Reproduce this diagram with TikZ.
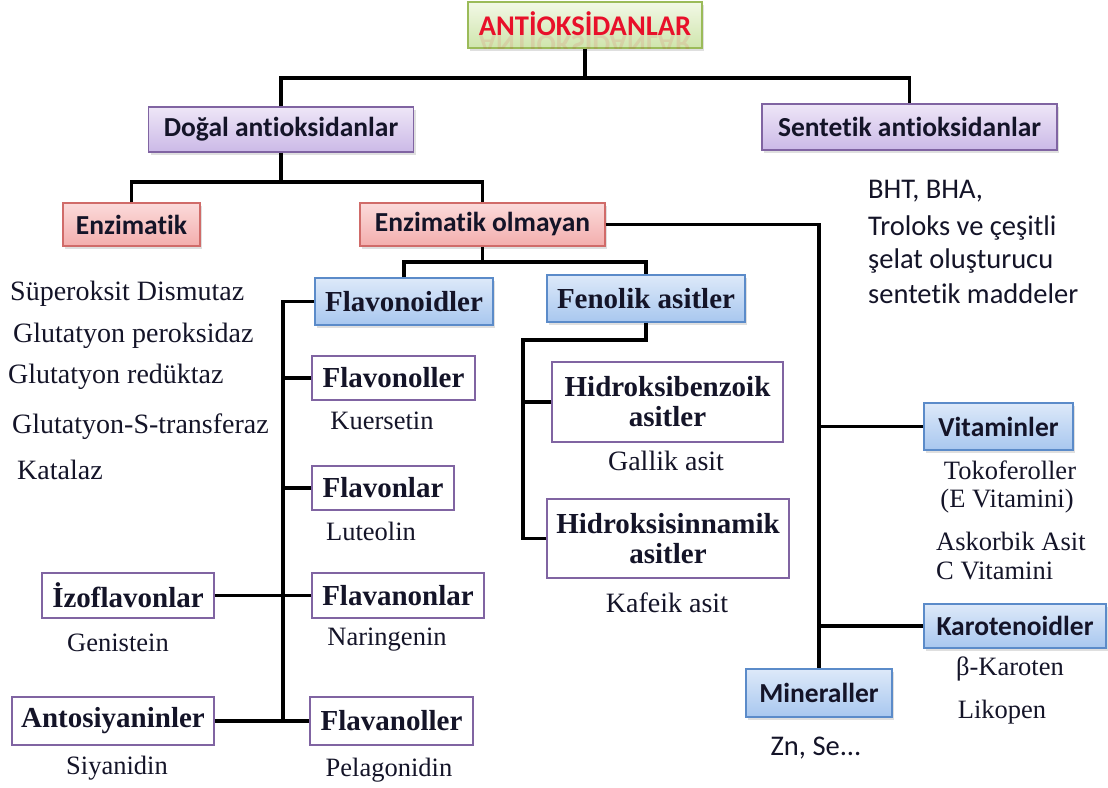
\documentclass[tikz,border=0pt]{standalone}
\usepackage{fontspec}
\setmainfont{Liberation Serif}
\newfontfamily\calfont[Ligatures=NoCommon]{Carlito}
\usetikzlibrary{shadows}

\definecolor{linkcol}{HTML}{000000}
\definecolor{greenedge}{HTML}{9BBB59}
\definecolor{greentop}{HTML}{F2F8E6}
\definecolor{greenbot}{HTML}{CFE5AC}
\definecolor{titlered}{HTML}{E8102A}
\definecolor{purpleedge}{HTML}{8064A2}
\definecolor{purpletop}{HTML}{EEE6F7}
\definecolor{purplebot}{HTML}{CBB9E7}
\definecolor{rededge}{HTML}{D06B69}
\definecolor{redtop}{HTML}{FBDADA}
\definecolor{redbot}{HTML}{F3AEAD}
\definecolor{blueedge}{HTML}{5B8BC9}
\definecolor{bluetop}{HTML}{DDE9F9}
\definecolor{bluebot}{HTML}{A8C7EF}
\definecolor{inktext}{HTML}{141428}

\newcommand\boxfontsans{\calfont\bfseries\fontsize{27.5}{30}\selectfont}
\newcommand\boxfontserif{\bfseries\fontsize{29}{30}\selectfont}
\newcommand\listfont{\fontsize{28}{30}\selectfont}
\newcommand\notefont{\fontsize{26.5}{30}\selectfont}
\newcommand\widenotefont{\fontsize{28}{30}\selectfont}
\newcommand\sansnote{\calfont\fontsize{28.5}{33}\selectfont}
\newcommand\titlefont{\calfont\bfseries\fontsize{28.5}{30}\selectfont}

\tikzset{
  basebox/.style={draw, line width=1.2pt, inner sep=0pt, align=center,
    text=inktext, drop shadow={opacity=0.25, shadow xshift=2pt, shadow yshift=-2.5pt}},
  greenbox/.style={basebox, draw=greenedge, top color=greentop, bottom color=greenbot},
  purplebox/.style={basebox, draw=purpleedge, top color=purpletop, bottom color=purplebot, font=\boxfontsans},
  redbox/.style={basebox, draw=rededge, top color=redtop, bottom color=redbot, font=\boxfontsans},
  bluebox/.style={basebox, draw=blueedge, top color=bluetop, bottom color=bluebot},
  whitebox/.style={draw=purpleedge, line width=1.2pt, fill=white, inner sep=0pt,
    align=center, text=inktext, font=\boxfontserif},
  link/.style={draw=linkcol, line width=3.8pt},
  note/.style={inner sep=0pt, text=inktext, font=\notefont},
  widenote/.style={inner sep=0pt, text=inktext, font=\widenotefont},
  listitem/.style={inner sep=0pt, anchor=west, text=inktext, font=\listfont},
  sansline/.style={inner sep=0pt, anchor=west, text=inktext, font=\sansnote},
}

\begin{document}
\begin{tikzpicture}[x=1pt, y=-1pt]
\useasboundingbox[fill=white] (0,0) rectangle (1108,787);

% ---- junction points of the tree ----
\coordinate (rootj) at (585,78);
\coordinate (dogj) at (281,182);
\coordinate (enzoj) at (482.5,262);
\coordinate (spine) at (283,721);
\coordinate (fenj) at (523,340);

% ---- boxes ----
\node[greenbox, minimum width=234pt, minimum height=46pt] (anti) at (585,25) {};
\node[purplebox, minimum width=265pt, minimum height=45pt] (dogal) at (281,129.5) {Doğal antioksidanlar};
\node[purplebox, minimum width=295pt, minimum height=46pt] (sent) at (909.5,127) {Sentetik antioksidanlar};
\node[redbox, minimum width=137pt, minimum height=43pt] (enz) at (131.5,224.5) {Enzimatik};
\node[redbox, minimum width=245pt, minimum height=43pt] (enzo) at (482.5,224.5) {Enzimatik olmayan};

\node[bluebox, font=\boxfontserif, minimum width=178pt, minimum height=47pt] (flavd) at (404,301.5) {Flavonoidler};
\node[bluebox, font=\boxfontserif, minimum width=198pt, minimum height=47pt] (fen) at (646,298.5) {Fenolik asitler};
\node[bluebox, font=\boxfontsans, minimum width=149pt, minimum height=47pt] (vit) at (998.5,426.5) {Vitaminler};
\node[bluebox, font=\boxfontsans, minimum width=182pt, minimum height=44pt] (karot) at (1015,626) {Karotenoidler};
\node[bluebox, font=\boxfontsans, minimum width=146pt, minimum height=48pt] (mine) at (819,693) {Mineraller};

\node[whitebox, minimum width=163pt, minimum height=44pt] (flavl) at (393.5,378) {Flavonoller};
\node[whitebox, minimum width=142pt, minimum height=44pt] (flavn) at (383,488) {Flavonlar};
\node[whitebox, minimum width=172pt, minimum height=45pt] (flavan) at (398,595.5) {Flavanonlar};
\node[whitebox, minimum width=172pt, minimum height=45pt] (izo) at (128,595.5) {İzoflavonlar};
\node[whitebox, minimum width=202pt, minimum height=48pt] (anto) at (113,721) {Antosiyaninler};
\node[whitebox, minimum width=163pt, minimum height=48pt] (flavol) at (391.5,721) {Flavanoller};
\node[whitebox, minimum width=231pt, minimum height=80pt] (hben) at (667.5,402) {Hidroksibenzoik\\asitler};
\node[whitebox, minimum width=242pt, minimum height=79pt] (hsin) at (668,538.5) {Hidroksisinnamik\\asitler};

% title text with a faint mirrored reflection
\begin{scope}
  \clip (anti.south west) rectangle (anti.north east);
  \node[inner sep=0pt, text=titlered, opacity=0.1, yscale=-1, font=\titlefont] at (585,47) {ANTİOKSİDANLAR};
\end{scope}
\node[inner sep=0pt, text=titlered, font=\titlefont] (title) at (585,24) {ANTİOKSİDANLAR};

% ---- tree links ----
\draw[link] (anti.south) -- (rootj);
\draw[link] (dogal.north) |- (rootj) -| (sent.north);
\draw[link] (dogal.south) -- (dogj);
\draw[link] (enz.north) |- (dogj) -| (enzo.north);
\draw[link] (enzo.south) -- (enzoj);
\draw[link] (flavd.north) |- (enzoj) -| (fen.north);
\draw[link] (enzo.east) -| (mine.north);
\draw[link] (vit.west) -- (vit.west -| mine.north);
\draw[link] (karot.west) -- (karot.west -| mine.north);

\draw[link] (flavd.west) -| (spine);
\draw[link] (flavl.west) -- (flavl.west -| spine);
\draw[link] (flavn.west) -- (flavn.west -| spine);
\draw[link] (izo.east) -- (flavan.west);
\draw[link] (anto.east) -- (flavol.west);

\draw[link] (fen.south) |- (fenj) |- (hsin.west);
\draw[link] (hben.west) -- (hben.west -| fenj);

% ---- enzyme list ----
\node[listitem] (sod) at (10,294) {Süperoksit Dismutaz};
\node[listitem] (gpx) at (13,336) {Glutatyon peroksidaz};
\node[listitem] (gr)  at (8,377) {Glutatyon redüktaz};
\node[listitem] (gst) at (12,427) {Glutatyon-S-transferaz};
\node[listitem] (kat) at (17,470) {Katalaz};

% ---- examples under boxes ----
\node[note] (kue) at (382,421) {Kuersetin};
\node[note] (lut) at (371,531) {Luteolin};
\node[note] (nar) at (387,640) {Naringenin};
\node[note] (gen) at (118,643) {Genistein};
\node[note] (siy) at (117,768) {Siyanidin};
\node[note] (pel) at (389,770) {Pelagonidin};
\node[widenote] (gal) at (666,461) {Gallik asit};
\node[widenote] (kaf) at (667,603) {Kafeik asit};

\node[note] (tok) at (1010,470) {Tokoferoller};
\node[note] (evit) at (1007,501) {(E Vitamini)};
\node[note, anchor=west] (ask) at (936,541) {Askorbik Asit};
\node[note, anchor=west] (cvit) at (936,571) {C Vitamini};
\node[note] (bkar) at (1010,669) {β-Karoten};
\node[note] (lik) at (1002,712) {Likopen};
\node[inner sep=0pt, text=inktext, font=\sansnote] (znse) at (816,748) {Zn, Se...};

% ---- synthetic examples ----
\node[sansline] (bht) at (868,191) {BHT, BHA,};
\node[sansline] (tro) at (868,228) {Troloks ve çeşitli};
\node[sansline] (sel) at (868,261) {şelat oluşturucu};
\node[sansline] (sen) at (868,294) {sentetik maddeler};
\end{tikzpicture}
\end{document}
